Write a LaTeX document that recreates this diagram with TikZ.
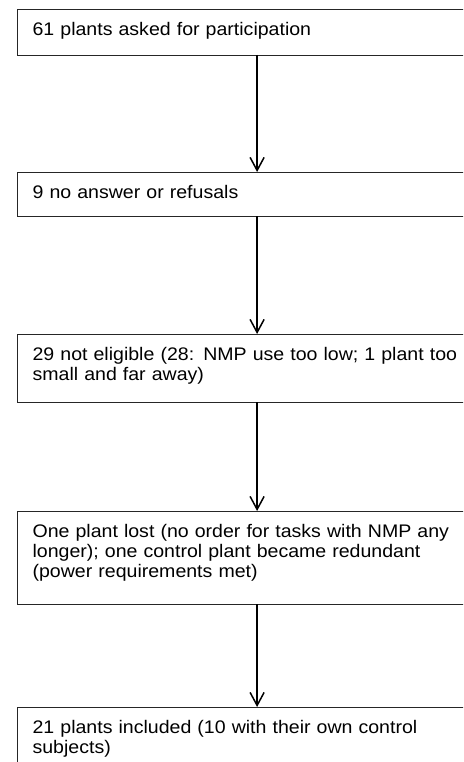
\documentclass[tikz,border=0pt]{standalone}
\usepackage{fontspec}
\setmainfont[FakeStretch=1.074]{Liberation Sans}
\hyphenpenalty=10000
\exhyphenpenalty=10000
\usetikzlibrary{arrows.meta}

\tikzset{
  stage/.style={draw=black!85, line width=0.9pt, anchor=north west,
    text width=449pt, align=left, inner xsep=15.3pt, inner ysep=0pt,
    outer sep=0pt, text height=26pt,
    font=\fontsize{18.2}{20}\selectfont},
  flow/.style={-{Straight Barb[length=13pt,width=14pt]}, line width=1.5pt}
}

\begin{document}
\begin{tikzpicture}
  \useasboundingbox (0,0) rectangle (463pt,-762pt);
  \clip (0,0) rectangle (463pt,-762pt);

  % the stages, top to bottom
  \node[stage, text depth=19.5pt] (asked) at (17.3pt,-9.5pt)
    {61 plants asked for participation};
  \node[stage, text depth=18pt] (refused) at (17.3pt,-172pt)
    {9 no answer or refusals};
  \node[stage, text depth=42pt] (noteligible) at (17.3pt,-334pt)
    {29 not eligible (28: NMP use too low; 1 plant too small and far away)};
  \node[stage, text depth=67pt] (lost) at (17.3pt,-511pt)
    {One plant lost (no order for tasks with NMP any longer); one control plant became redundant (power requirements met)};
  \node[stage, text depth=80pt] (included) at (17.3pt,-707pt)
    {21 plants included (10 with their own control subjects)};

  % connectors
  \draw[flow] (asked) -- (refused);
  \draw[flow] (refused) -- (noteligible);
  \draw[flow] (noteligible) -- (lost);
  \draw[flow] (lost) -- (included);
\end{tikzpicture}
\end{document}
